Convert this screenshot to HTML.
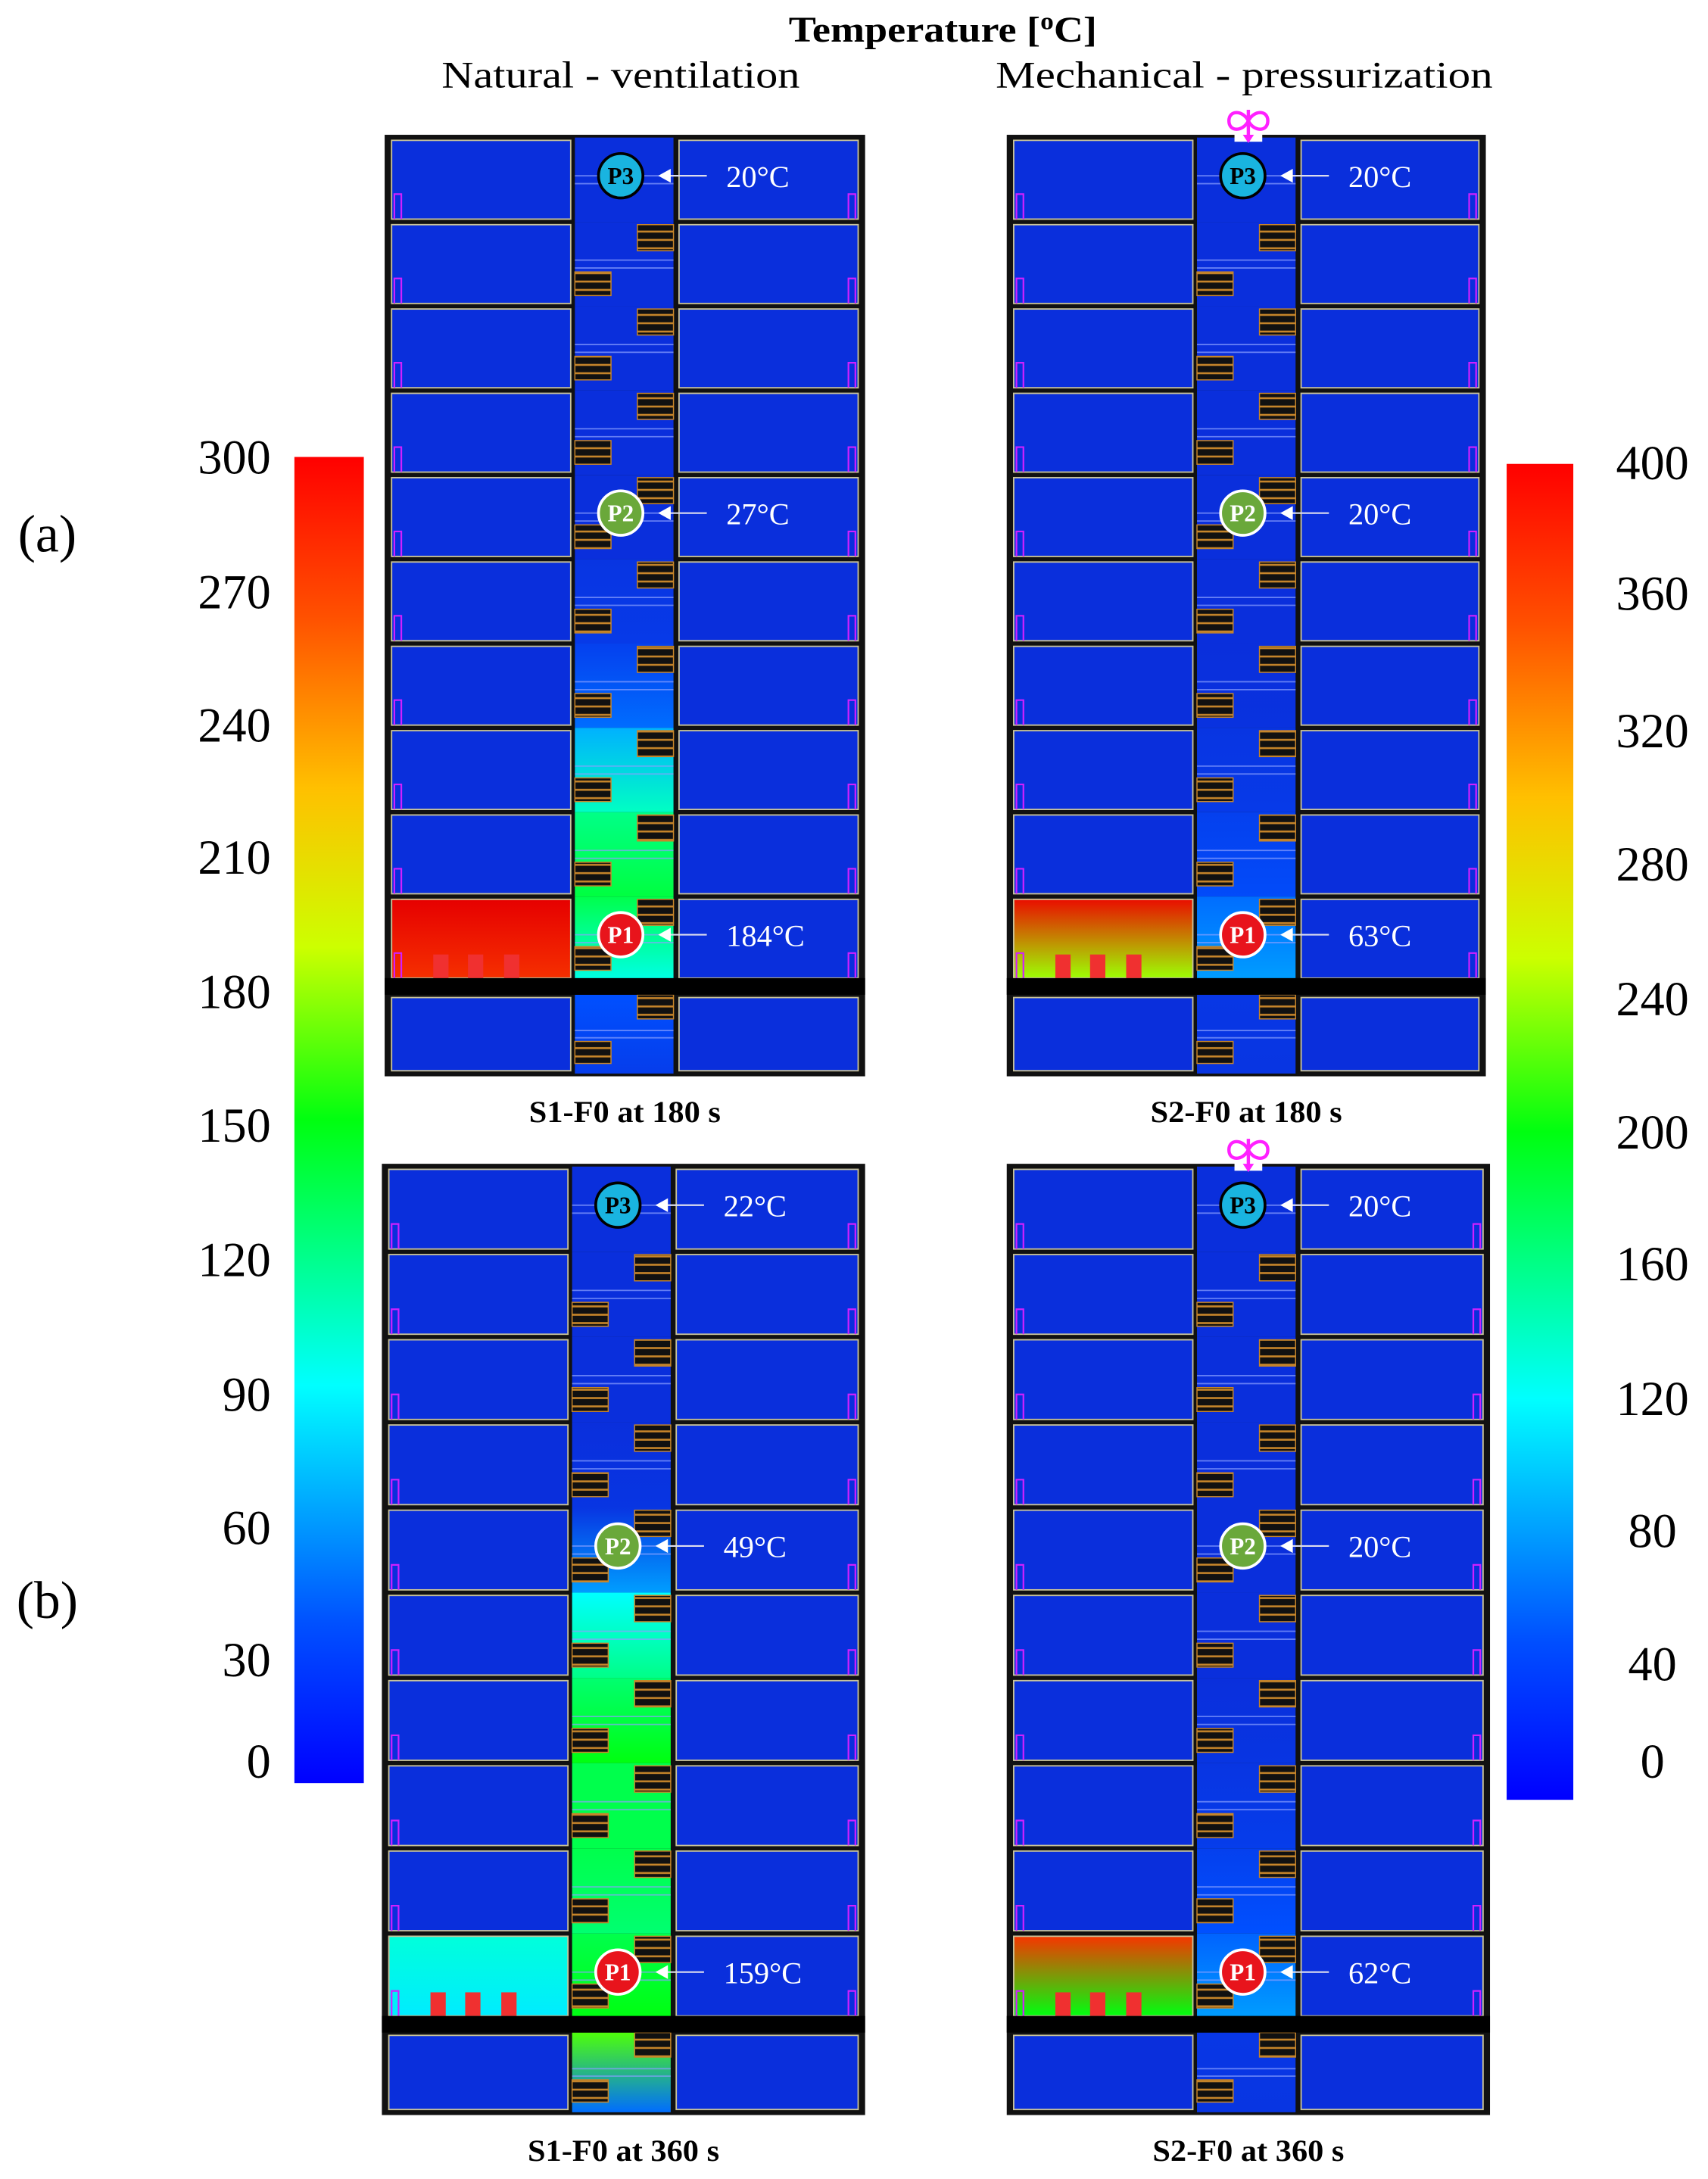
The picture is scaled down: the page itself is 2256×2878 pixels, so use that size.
<!DOCTYPE html>
<html><head><meta charset="utf-8"><title>Temperature comparison</title>
<style>html,body{margin:0;padding:0;background:#fff}svg{display:block}text{font-family:"Liberation Serif",serif}</style>
</head><body>
<svg id="fig" width="2256" height="2878" viewBox="0 0 1230 1569" xmlns="http://www.w3.org/2000/svg">
<defs>
<linearGradient id="jetL" x1="0" y1="1" x2="0" y2="0">
<stop offset="0" stop-color="#0000ff"/><stop offset="0.12" stop-color="#0050ff"/><stop offset="0.3" stop-color="#00ffff"/><stop offset="0.5" stop-color="#00ff10"/><stop offset="0.63" stop-color="#ccff00"/><stop offset="0.75" stop-color="#ffc000"/><stop offset="0.88" stop-color="#ff5000"/><stop offset="1" stop-color="#ff0000"/>
</linearGradient>
<pattern id="stairPat" width="10" height="6" patternUnits="userSpaceOnUse"><rect width="10" height="6" fill="#111"/><rect y="4" width="10" height="1.4" fill="#c8862a"/></pattern>
</defs>
<text x="568" y="30" font-size="26" font-weight="bold" textLength="222" lengthAdjust="spacingAndGlyphs">Temperature [<tspan font-size="17" dy="-9">o</tspan><tspan dy="9">C]</tspan></text>
<text x="318" y="63" font-size="27" textLength="258" lengthAdjust="spacingAndGlyphs">Natural - ventilation</text>
<text x="717" y="63" font-size="27" textLength="358" lengthAdjust="spacingAndGlyphs">Mechanical  - pressurization</text>
<text x="34" y="397" font-size="38" text-anchor="middle">(a)</text>
<text x="34" y="1165" font-size="38" text-anchor="middle">(b)</text>
<rect x="212" y="329" width="50" height="955" fill="url(#jetL)"/>
<rect x="1085" y="334" width="48" height="962" fill="url(#jetL)"/>
<g id="ticksL"></g><g id="ticksR"></g><g id="panels"></g>
</svg>
<script>
// colorbar tick labels (top to bottom) and their vertical positions
const leftTicks = [300,270,240,210,180,150,120,90,60,30,0];
const leftTickY = [329,426,522,617,714,810,907,1004,1100,1195,1268];
const rightTicks = [400,360,320,280,240,200,160,120,80,40,0];
const rightTickY = [333,427,526,622,719,815,910,1007,1102,1198,1268];
// probe readings per panel [P3,P2,P1]
const probeTemps = [["20","27","184"],["20","20","63"],["22","49","159"],["20","20","62"]];
// stair temperature fraction per floor (top -> bottom, 11 floors), top and bottom of each floor
const stairTop = [
 [0,0,0,0,0,0.02,0.06,0.22,0.4,0.45,0.12],
 [0,0,0,0,0,0,0,0.02,0.06,0.15,0.03],
 [0,0,0,0,0.02,0.3,0.42,0.45,0.45,0.45,0.55],
 [0,0,0,0,0,0,0,0.02,0.06,0.14,0.03]];
const stairBot = [
 [0,0,0,0,0,0.04,0.15,0.35,0.46,0.32,0.05],
 [0,0,0,0,0,0,0.01,0.04,0.1,0.2,0.02],
 [0,0,0,0.02,0.2,0.4,0.5,0.45,0.42,0.5,0.15],
 [0,0,0,0,0,0,0.02,0.05,0.12,0.2,0.02]];
// fire room fraction: top, bottom
const fireTop = [1.0, 0.98, 0.33, 0.92];
const fireBot = [0.93, 0.6, 0.28, 0.5];
const captions = ["S1-F0 at 180 s","S2-F0 at 180 s","S1-F0 at 360 s","S2-F0 at 360 s"];
const NS="http://www.w3.org/2000/svg";
function jet(v){v=Math.max(0,Math.min(1,v));
 const st=[[0,10,47,220],[0.12,0,80,255],[0.3,0,255,255],[0.5,0,255,16],[0.63,204,255,0],[0.75,255,192,0],[0.88,255,80,0],[1,230,0,0]];
 for(let i=1;i<st.length;i++){if(v<=st[i][0]){const a=st[i-1],b=st[i],t=(v-a[0])/(b[0]-a[0]);
 return `rgb(${Math.round(a[1]+t*(b[1]-a[1]))},${Math.round(a[2]+t*(b[2]-a[2]))},${Math.round(a[3]+t*(b[3]-a[3]))})`;}}return "rgb(230,0,0)";}
function el(tag,attrs,parent){const e=document.createElementNS(NS,tag);for(const k in attrs)e.setAttribute(k,attrs[k]);parent.appendChild(e);return e;}
const tl=document.getElementById('ticksL'), tr=document.getElementById('ticksR');
leftTicks.forEach((v,i)=>{const t=el('text',{x:195,y:leftTickY[i]+12,'font-size':35,'text-anchor':'end'},tl);

t.textContent=v;});
rightTicks.forEach((v,i)=>{const t=el('text',{x:1190,y:rightTickY[i]+12,'font-size':35,'text-anchor':'middle'},tr);

t.textContent=v;});
const defs=document.querySelector('defs');
let gid=0;
function grad(c1,c2){const id='g'+(gid++);const g=el('linearGradient',{id:id,x1:0,y1:0,x2:0,y2:1},defs);
 el('stop',{offset:0,'stop-color':c1},g);el('stop',{offset:1,'stop-color':c2},g);return 'url(#'+id+')';}
const panelsG=document.getElementById('panels');
const PAN=[[277,97,623,775,false],[725,97,1070,775,true],[275,838,623,1523,false],[725,838,1073,1523,true]];
const BLUE="#0a2fdc";
PAN.forEach((p,pi)=>{
 const [x0,y0,x1,y1,fan]=p;
 const g=el('g',{},panelsG);
 
 
 const H=y1-y0, fh=(H-10)/11;
 el('rect',{x:x0,y:y0,width:x1-x0,height:H,fill:'#111'},g);
 const lx0=x0+5,lx1=x0+134,sx0=x0+137,sx1=x0+208,rx0=x0+212,rx1=x1-5;
 for(let f=0;f<11;f++){
  let fy=y0+4+f*fh+(f==10?10:0), fy1=fy+fh-4;
  if(f==10) fy1=y1-4;
  const hgt=fy1-fy;
  const isFire=f==9;
  const lf=isFire?grad(jet(fireTop[pi]),jet(fireBot[pi])):BLUE;
  el('rect',{x:lx0,y:fy,width:lx1-lx0,height:hgt,fill:lf,stroke:'#c9c39a','stroke-width':1},g);
  el('rect',{x:rx0,y:fy,width:rx1-rx0,height:hgt,fill:BLUE,stroke:'#c9c39a','stroke-width':1},g);
  el('rect',{x:sx0,y:fy-2,width:sx1-sx0,height:hgt+4,fill:grad(jet(stairTop[pi][f]),jet(stairBot[pi][f]))},g);
  el('line',{x1:sx0,y1:fy+hgt*0.45,x2:sx1,y2:fy+hgt*0.45,stroke:'#8aa0ff','stroke-width':1,opacity:0.7},g);
  el('line',{x1:sx0,y1:fy+hgt*0.55,x2:sx1,y2:fy+hgt*0.55,stroke:'#8aa0ff','stroke-width':1,opacity:0.7},g);
  if(f>0) el('rect',{x:sx1-26,y:fy+(f==10?-2:0),width:26,height:hgt*0.33,fill:'url(#stairPat)',stroke:'#c8862a','stroke-width':0.8},g);
  if(f>0) el('rect',{x:sx0,y:fy+hgt*0.6,width:26,height:hgt*0.3,fill:'url(#stairPat)',stroke:'#c8862a','stroke-width':0.8},g);
  if(f<10){el('path',{d:`M${lx0+2} ${fy1} v-18 h5 v18`,fill:'none',stroke:'#d020ff','stroke-width':1.2},g);
  el('path',{d:`M${rx1-7} ${fy1} v-18 h5 v18`,fill:'none',stroke:'#d020ff','stroke-width':1.2},g);}
  if(isFire){[35,60,86].forEach(o=>el('rect',{x:x0+o,y:fy1-17,width:11,height:17,fill:'#f03030'},g));}
 }
 el('rect',{x:x0,y:y0+4+10*fh-4,width:x1-x0,height:12,fill:'#000'},g);
 const cx=x0+170;
 const probes=[[0,'#19b4e0','#000','P3'],[4,'#6aa83a','#fff','P2'],[9,'#e8141c','#fff','P1']];
 probes.forEach((pr,k)=>{
  const cy=y0+4+pr[0]*fh+fh*0.42;
  const c=el('circle',{cx:cx,cy:cy,r:16,fill:pr[1],stroke:pr[2],'stroke-width':2},g);
  
  
  const t=el('text',{x:cx,y:cy+6,'font-size':17,'font-weight':'bold','text-anchor':'middle',fill:pr[2]==='#000'?'#000':'#fff'},g);
  t.textContent=pr[3];
  el('line',{x1:x0+205,y1:cy,x2:x0+232,y2:cy,stroke:'#dde','stroke-width':1.2},g);
  el('path',{d:`M${x0+197} ${cy} l9 -5 v10 z`,fill:'#fff'},g);
  const v=el('text',{x:x0+246,y:cy+8,'font-size':22,fill:'#fff'},g);
  
  
  v.textContent=probeTemps[pi][k]+'°C';
 });
 if(fan){
  const fx=x0+174, fy=y0-10;
  el('rect',{x:fx-10,y:y0-1,width:20,height:6,fill:'#fff'},g);
  const f=el('path',{d:`M${fx} ${fy} c-4 -8 -14 -8 -14 0 c0 8 10 8 14 0 c4 8 14 8 14 0 c0 -8 -10 -8 -14 0 M${fx} ${fy-8} v20`,fill:'none',stroke:'#ff20ff','stroke-width':2.4},g);
  
  
  el('path',{d:`M${fx-4} ${fy+10} h8 l-4 6 z`,fill:'#ff20ff'},g);
 }
 const cap=el('text',{x:(x0+x1)/2-69,y:y1+33,'font-size':22,'font-weight':'bold',textLength:138,lengthAdjust:'spacingAndGlyphs'},panelsG);
 
 
 cap.textContent=captions[pi];
});
</script>
</body></html>
